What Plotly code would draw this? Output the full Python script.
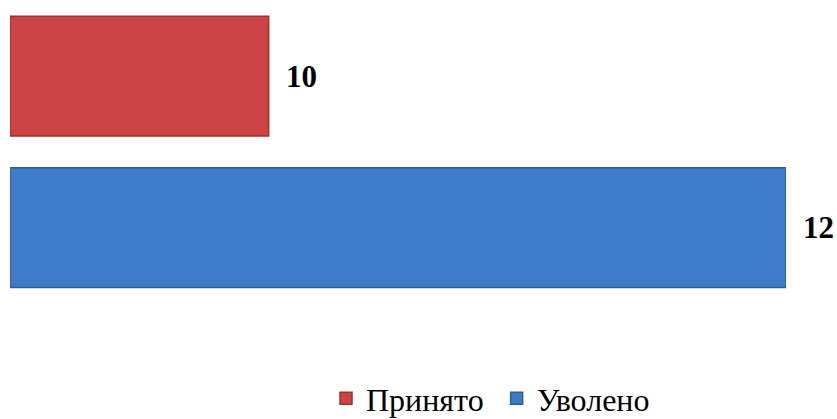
import plotly.graph_objects as go

series_names = ["Принято", "Уволено"]
series_values = [10, 12]
series_colors = ["#CC4343", "#3E7CC9"]
edge_colors = ["#A23030", "#2D5E9C"]
axis_min = 9
axis_max = 12

fig = go.Figure()
for name, val, col, edge in zip(series_names, series_values, series_colors, edge_colors):
    fig.add_trace(go.Bar(
        y=[name], x=[val - axis_min], base=axis_min, orientation="h",
        name=name + "\u00a0", marker=dict(color=col, line=dict(color=edge, width=1.5)),
        hoverinfo="skip",
    ))
    fig.add_annotation(
        x=val, y=name, text=f"<b>{val}</b>", showarrow=False,
        xanchor="left", xshift=15, yshift=0,
        font=dict(family="Liberation Serif", size=31, color="#000000"),
    )

fig.update_layout(
    width=837, height=419,
    margin=dict(l=10, r=51, t=0, b=116),
    paper_bgcolor="white", plot_bgcolor="white",
    barmode="overlay", bargap=0.21,
    showlegend=True,
    legend=dict(orientation="h", xref="container", yref="container",
                x=0.3895, xanchor="left", y=0.049, yanchor="middle",
                font=dict(family="Liberation Serif", size=32, color="#000000"),
                itemwidth=30, tracegroupgap=0),
    xaxis=dict(range=[axis_min, axis_max], visible=False, fixedrange=True),
    yaxis=dict(categoryorder="array", categoryarray=["Уволено", "Принято"],
               range=[-0.498, 1.502], visible=False),
)

fig.write_html(
    "out.html",
    config={"displayModeBar": False, "staticPlot": True},
    post_script="document.body.style.margin='0';document.body.style.overflow='hidden';",
)
